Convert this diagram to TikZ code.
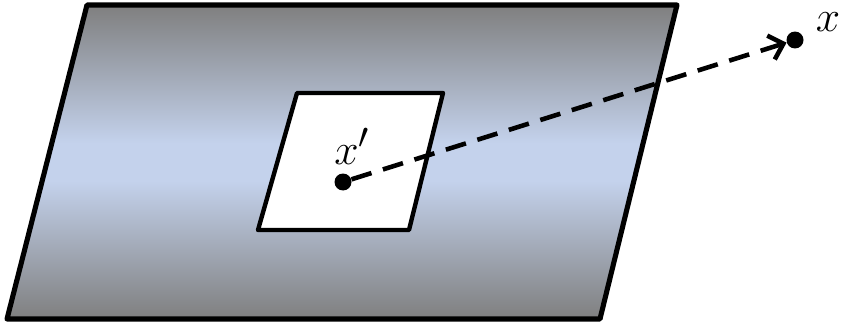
\documentclass[tikz,border=0pt]{standalone}
\usepackage{amsmath,amssymb}
\usetikzlibrary{arrows.meta}

\definecolor{planegray}{HTML}{7F7F7F}
\definecolor{planeblue}{HTML}{C4D2EC}
\pgfdeclareverticalshading{planeshade}{100bp}{color(0bp)=(planegray); color(25bp)=(planegray);
  color(47bp)=(planeblue); color(53bp)=(planeblue); color(75bp)=(planegray); color(100bp)=(planegray)}

\tikzset{
  plane/.style={draw=black, line width=2.9pt, line join=round, shading=planeshade},
  window/.style={draw=black, line width=2.5pt, line join=round, fill=white},
  dot/.style={circle, fill=black, inner sep=0pt, minimum size=0.34cm},
  ray/.style={line width=2.6pt, dash pattern=on 0.42cm off 0.24cm,
    -{Straight Barb[length=0.26cm, width=0.5cm, line width=2.6pt]}},
  lbl/.style={font=\fontsize{32}{36}\selectfont, inner sep=0pt}
}

\begin{document}
\begin{tikzpicture}[x=0.02cm, y=-0.02cm]
    \useasboundingbox (0,0) rectangle (849,328);

    % Plane
    \path[plane] (87,5) -- (677,5) -- (600,319) -- (7,319) -- cycle;

    % Hole in the plane
    \path[window] (297,93) -- (443,93) -- (409,230) -- (258,230) -- cycle;

    % Points
    \node[dot] (xp) at (343,182) {};
    \node[dot] (x) at (795,40) {};
    \node[lbl] (xplabel) at (352,146) {$x'$};
    \node[lbl] (xlabel) at (828,22) {$x$};

    % Ray
    \draw[ray] (xp) -- (x);

\end{tikzpicture}
\end{document}
